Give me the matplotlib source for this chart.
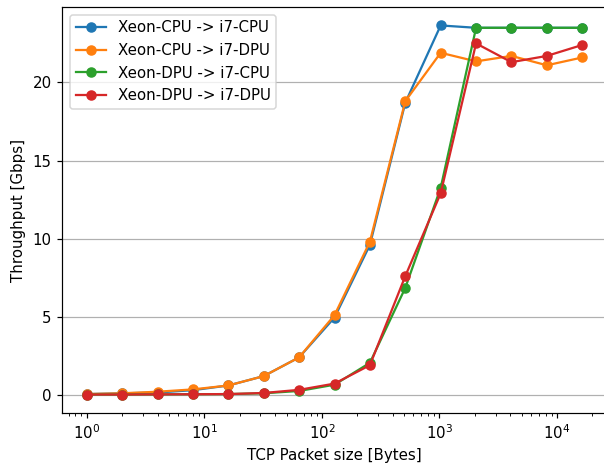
import matplotlib
matplotlib.use("Agg")
import matplotlib.pyplot as plt

# TCP packet sizes (bytes)
sizes = [1, 2, 4, 8, 16, 32, 64, 128, 256, 512, 1024, 2048, 4096, 8192, 16384]

# throughput in Gbps
xeon_cpu_i7_cpu = [0.05, 0.1, 0.15, 0.3, 0.6, 1.2, 2.4, 4.95, 9.6, 18.7, 23.65, 23.5, 23.5, 23.5, 23.5]
xeon_cpu_i7_dpu = [0.05, 0.1, 0.2, 0.35, 0.6, 1.2, 2.4, 5.1, 9.8, 18.8, 21.9, 21.35, 21.7, 21.1, 21.6]
xeon_dpu_i7_cpu = [0.02, 0.02, 0.03, 0.04, 0.05, 0.1, 0.25, 0.65, 2.05, 6.85, 13.25, 23.5, 23.5, 23.5, 23.5]
xeon_dpu_i7_dpu = [0.02, 0.02, 0.03, 0.04, 0.05, 0.12, 0.32, 0.72, 1.9, 7.6, 12.9, 22.5, 21.3, 21.7, 22.4]

DPI = 108
fig = plt.figure(figsize=(604/DPI, 465/DPI), dpi=DPI)
ax = fig.add_axes([62/604, 52/465, 545/604, 406/465])

ax.plot(sizes, xeon_cpu_i7_cpu, marker='o', label='Xeon-CPU -> i7-CPU')
ax.plot(sizes, xeon_cpu_i7_dpu, marker='o', label='Xeon-CPU -> i7-DPU')
ax.plot(sizes, xeon_dpu_i7_cpu, marker='o', label='Xeon-DPU -> i7-CPU')
ax.plot(sizes, xeon_dpu_i7_dpu, marker='o', label='Xeon-DPU -> i7-DPU')

ax.set_xscale('log')
ax.grid(axis='y')
ax.set_xlabel('TCP Packet size [Bytes]')
ax.set_ylabel('Throughput [Gbps]')
ax.legend(loc='upper left')

fig.savefig('out.png', dpi=DPI)
